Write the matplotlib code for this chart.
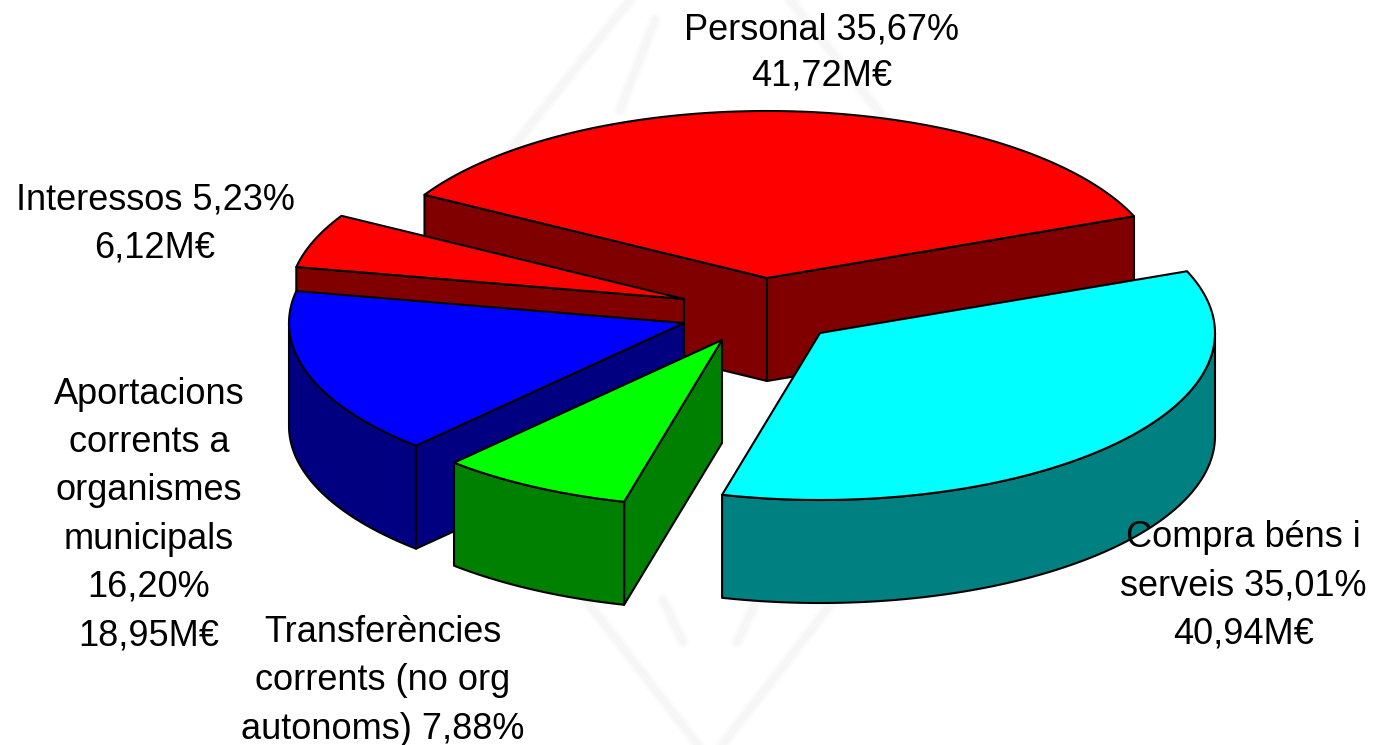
import numpy as np
import matplotlib
matplotlib.use("Agg")
import matplotlib.pyplot as plt
from matplotlib.patches import Polygon

plt.rcParams['font.family'] = ['Liberation Sans', 'DejaVu Sans']

# Data
categories = ["Personal", "Interessos", "Aportacions corrents a organismes municipals",
              "Transferències corrents (no org autonoms)", "Compra béns i serveis"]
percent = [35.67, 5.23, 16.20, 7.88, 35.01]
labels = ["Personal 35,67%\n41,72M€",
          "Interessos 5,23%\n6,12M€",
          "Aportacions\ncorrents a\norganismes\nmunicipals\n16,20%\n18,95M€",
          "Transferències\ncorrents (no org\nautonoms) 7,88%",
          "Compra béns i\nserveis 35,01%\n40,94M€"]

# Styles / layout
top_colors = ["#FF0000", "#FF0000", "#0000FF", "#00FF00", "#00FFFF"]
side_colors = ["#800000", "#800000", "#000080", "#008000", "#008080"]
apex = [(767, 278), (684, 299), (684, 323), (722, 340), (820, 333)]
label_pos = [(822, 53), (155, 224), (149, 515), (383, 681), (1243, 586)]
label_spacing = [1.42, 1.47, 1.49, 1.49, 1.49]
RX, RY, DEPTH = 395, 167, 103
START = 21.7

fig = plt.figure(figsize=(13.74, 7.45), dpi=100)
ax = fig.add_axes([0, 0, 1, 1])
ax.set_xlim(0, 1374)
ax.set_ylim(745, 0)
ax.axis("off")


# faint watermark behind the pie
def soft_line(xs, ys):
    ax.plot(xs, ys, color="#fbfbfb", lw=9, solid_capstyle="round", zorder=0)
    ax.plot(xs, ys, color="#f6f6f6", lw=5, solid_capstyle="round", zorder=0)


cx_w = 710
for s in (-1, 1):
    soft_line([cx_w + s * 338, cx_w + s * 80], [324, 0])
    soft_line([cx_w + s * 338, cx_w + s * 12], [324, 745])
    soft_line([cx_w + s * 47, cx_w + s * 27], [600, 642])
soft_line([620, 655], [110, 20])

edge = dict(edgecolor="black", linewidth=1.5, joinstyle="round")


def rim(center, a0, a1, n=None):
    n = n or max(2, int(abs(a1 - a0) * 1.5))
    t = np.radians(np.linspace(a0, a1, n))
    return np.column_stack([center[0] + RX * np.cos(t), center[1] - RY * np.sin(t)])


angles = START + np.concatenate([[0], np.cumsum(percent)]) / sum(percent) * 360
z = 1
for i, (a0, a1) in enumerate(zip(angles[:-1], angles[1:])):
    c = np.array(apex[i], float)
    down = np.array([0, DEPTH])
    # cut faces that look toward the viewer
    if np.cos(np.radians(a0)) > 0:
        p = rim(c, a0, a0, 2)[0]
        ax.add_patch(Polygon([c, p, p + down, c + down], facecolor=side_colors[i], zorder=z, **edge))
        z += 1
    if np.cos(np.radians(a1)) < 0:
        p = rim(c, a1, a1, 2)[0]
        ax.add_patch(Polygon([c, p, p + down, c + down], facecolor=side_colors[i], zorder=z, **edge))
        z += 1
    # outer wall on the near half of the ellipse
    for lo, hi in ((180, 360), (540, 720)):
        b0, b1 = max(a0, lo), min(a1, hi)
        if b1 > b0:
            r = rim(c, b0, b1)
            ax.add_patch(Polygon(np.vstack([r, (r + down)[::-1]]), facecolor=side_colors[i], zorder=z, **edge))
            z += 1
    # top
    ax.add_patch(Polygon(np.vstack([c, rim(c, a0, a1)]), facecolor=top_colors[i], zorder=z, **edge))
    z += 1

for text, (x, y), ls in zip(labels, label_pos, label_spacing):
    ax.text(x, y, text, ha="center", va="center", multialignment="center",
            fontsize=26, color="black", linespacing=ls, zorder=100)

fig.savefig("out.png", dpi=100)
